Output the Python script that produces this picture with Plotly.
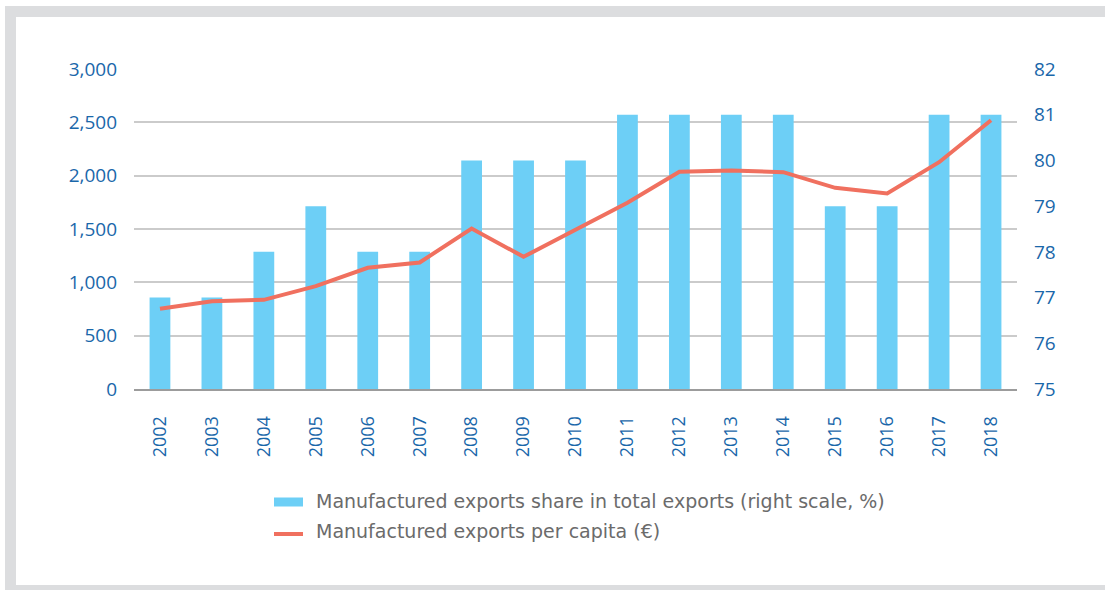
import plotly.graph_objects as go

# Data
years = [str(y) for y in range(2002, 2019)]
share_pct = [77, 77, 78, 79, 78, 78, 80, 80, 80, 81, 81, 81, 81, 79, 79, 81, 81]
per_capita_eur = [752, 823, 836, 964, 1136, 1186, 1505, 1239, 1492, 1746,
                  2036, 2048, 2033, 1886, 1833, 2126, 2520]

left_ticks = [0, 500, 1000, 1500, 2000, 2500, 3000]
right_ticks = [75, 76, 77, 78, 79, 80, 81, 82]

BAR_NAME = "Manufactured exports share in total exports (right scale, %)"
LINE_NAME = "Manufactured exports per capita (\u20ac)"

# Figure geometry (pixels)
W, H = 1105, 590
ML, MR, MT, MB = 134, 88, 69, 201
PW, PH = W - ML - MR, H - MT - MB

BLUE_TXT = "#1a67aa"
BAR_COL = "#6dcff6"
LINE_COL = "#f0705f"
GRID_COL = "#cbcbcb"
FRAME_COL = "#dcdddf"
FONT = "Open Sans"


def px(x):
    return (x - ML) / PW


def py(y):
    return (H - MB - y) / PH


fig = go.Figure()

fig.add_trace(go.Bar(
    x=years, y=share_pct, name=BAR_NAME, yaxis="y",
    marker=dict(color=BAR_COL, line=dict(width=0)), width=0.4,
))
fig.add_trace(go.Scatter(
    x=years, y=per_capita_eur, name=LINE_NAME, yaxis="y2", mode="lines",
    line=dict(color=LINE_COL, width=4),
))

fig.update_layout(
    width=W, height=H,
    margin=dict(l=ML, r=MR, t=MT, b=MB, autoexpand=False),
    paper_bgcolor="white", plot_bgcolor="rgba(0,0,0,0)",
    showlegend=False,
    font=dict(family=FONT, color=BLUE_TXT, size=19),
    xaxis=dict(
        type="category", tickangle=-90, ticks="", showgrid=False,
        showline=True, linecolor="#9c9c9c", linewidth=2,
        tickfont=dict(family=FONT, size=18, color=BLUE_TXT),
        ticklabelstandoff=18, automargin=False,
    ),
    yaxis=dict(
        side="right", range=[75, 82], tickvals=right_ticks,
        showgrid=False, zeroline=False, ticks="",
        tickfont=dict(family=FONT, size=19, color=BLUE_TXT),
        ticklabelstandoff=16, automargin=False,
    ),
    yaxis2=dict(
        side="left", overlaying="y", range=[0, 3000], tickvals=left_ticks,
        tickformat=",d", showgrid=True, gridcolor=GRID_COL, gridwidth=1.5,
        zeroline=False, ticks="",
        tickfont=dict(family=FONT, size=19, color=BLUE_TXT),
        ticklabelstandoff=16, automargin=False,
    ),
    bargap=0.6,
)

# Grey frame around the white card
shapes = [
    dict(type="rect", xref="paper", yref="paper", layer="below",
         x0=px(5), x1=px(1115), y0=py(6), y1=py(600),
         fillcolor=FRAME_COL, line=dict(width=0)),
    dict(type="rect", xref="paper", yref="paper", layer="below",
         x0=px(16), x1=px(1115), y0=py(17), y1=py(585),
         fillcolor="white", line=dict(width=0)),
    # legend swatches
    dict(type="rect", xref="paper", yref="paper",
         x0=px(274), x1=px(303), y0=py(497.5), y1=py(506.5),
         fillcolor=BAR_COL, line=dict(width=0)),
    dict(type="line", xref="paper", yref="paper",
         x0=px(274), x1=px(303), y0=py(534), y1=py(534),
         line=dict(color=LINE_COL, width=4)),
]
fig.update_layout(shapes=shapes)

legend_font = dict(family="DejaVu Sans", size=19, color="#6b6b6b")
fig.add_annotation(xref="paper", yref="paper", x=px(314), y=py(501),
                   xanchor="left", yanchor="middle", showarrow=False,
                   text=BAR_NAME, font=legend_font)
fig.add_annotation(xref="paper", yref="paper", x=px(314), y=py(531),
                   xanchor="left", yanchor="middle", showarrow=False,
                   text=LINE_NAME, font=legend_font)

fig.write_html("out.html")
